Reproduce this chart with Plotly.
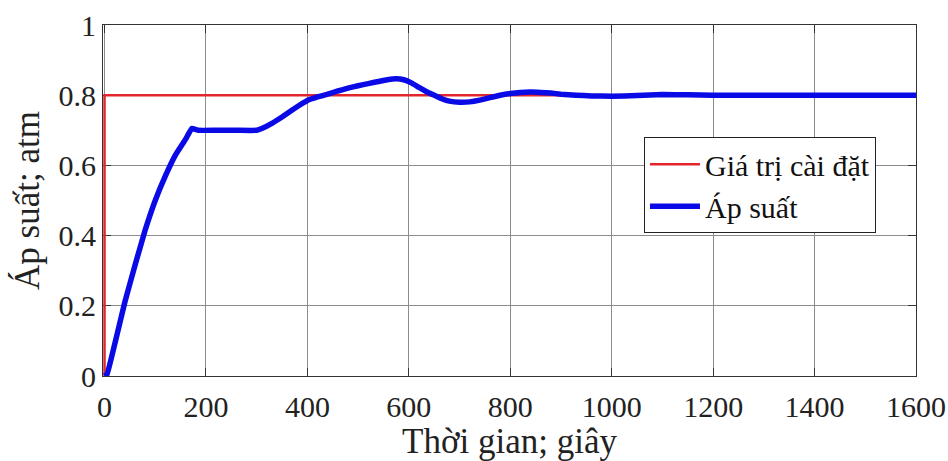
import plotly.graph_objects as go

# Data
time_s = [0, 5, 20, 40, 60, 80, 100, 120, 140, 160, 172, 185, 220, 260, 300, 310,
          330, 350, 370, 385, 400, 420, 440, 460, 480, 500, 520, 540, 560, 575,
          590, 605, 620, 635, 650, 665, 680, 700, 720, 740, 760, 780, 800, 820,
          840, 860, 880, 900, 930, 960, 1000, 1050, 1100, 1150, 1200, 1300, 1400,
          1500, 1600]
pressure = [0.0, 0.005, 0.09, 0.21, 0.315, 0.415, 0.50, 0.57, 0.63, 0.675, 0.705,
            0.70, 0.70, 0.70, 0.70, 0.705, 0.72, 0.738, 0.758, 0.772, 0.785,
            0.795, 0.803, 0.812, 0.82, 0.827, 0.833, 0.839, 0.845, 0.847, 0.844,
            0.835, 0.822, 0.81, 0.80, 0.79, 0.783, 0.780, 0.781, 0.786, 0.793,
            0.80, 0.805, 0.808, 0.809, 0.808, 0.806, 0.803, 0.800, 0.798, 0.797,
            0.799, 0.802, 0.801, 0.800, 0.800, 0.800, 0.800, 0.800]
setpoint_t = [0, 0, 1600]
setpoint_v = [0.0, 0.8, 0.8]

x_ticks = [0, 200, 400, 600, 800, 1000, 1200, 1400, 1600]
y_ticks = [0, 0.2, 0.4, 0.6, 0.8, 1.0]
y_tick_labels = ["0", "0.2", "0.4", "0.6", "0.8", "1"]
series_names = ["Giá trị cài đặt", "Áp suất"]

FONT = "Liberation Serif, serif"


def serif(text):
    return "<span style='font-family:Liberation Serif'>" + text + "</span>"


fig = go.Figure()
fig.add_trace(go.Scatter(x=setpoint_t, y=setpoint_v, mode="lines",
                         name=serif(series_names[0]),
                         line=dict(color="#e3262b", width=2.5)))
fig.add_trace(go.Scatter(x=time_s, y=pressure, mode="lines",
                         name=serif(series_names[1]),
                         line=dict(color="#0a0ae6", width=5.5, shape="spline",
                                   smoothing=0.3)))

axis_common = dict(showline=True, linecolor="#333333", linewidth=1.2,
                   mirror="ticks", ticks="inside", ticklen=8, tickcolor="#333333",
                   showgrid=True, gridcolor="#8c8c8c", gridwidth=1,
                   zeroline=False, automargin=False, layer="below traces")

fig.update_xaxes(range=[-3, 1600], tickvals=x_ticks,
                 ticktext=[serif(str(v)) for v in x_ticks],
                 ticklabelstandoff=4,
                 tickfont=dict(family=FONT, size=30, color="#222222"),
                 title=dict(text="Thời gian; giây",
                            font=dict(family=FONT, size=35, color="#222222"),
                            standoff=5),
                 **axis_common)
fig.update_yaxes(range=[0, 1], tickvals=y_ticks,
                 ticktext=[serif(t) for t in y_tick_labels],
                 tickfont=dict(family=FONT, size=30, color="#222222"),
                 title=dict(text="Áp suất; atm",
                            font=dict(family=FONT, size=35, color="#222222"),
                            standoff=8),
                 **axis_common)

fig.update_layout(
    width=948, height=461,
    margin=dict(l=103, r=32, t=25, b=85),
    paper_bgcolor="white", plot_bgcolor="white",
    font=dict(family=FONT, color="#222222"),
    showlegend=True,
    legend=dict(x=0.6654, y=0.68, xanchor="left", yanchor="top",
                bgcolor="white", bordercolor="#222222", borderwidth=1,
                font=dict(family=FONT, size=30, color="#111111"),
                itemwidth=50, tracegroupgap=0),
)

fig.write_html("out.html")
